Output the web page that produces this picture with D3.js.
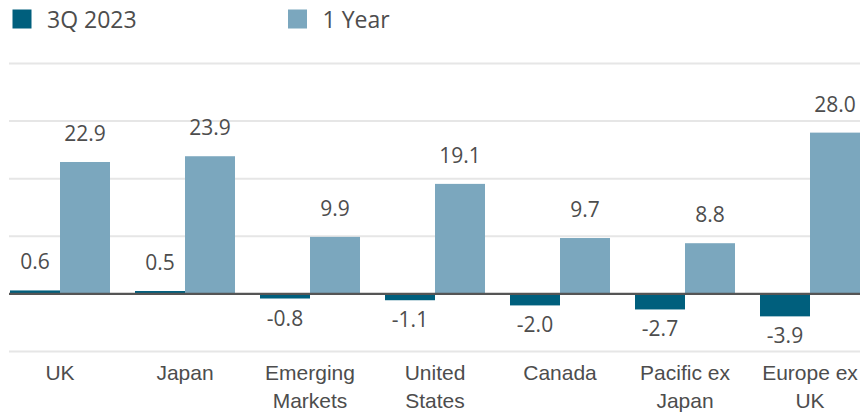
<!DOCTYPE html>
<html>
<head>
<meta charset="utf-8">
<script src="https://cdn.jsdelivr.net/npm/d3@7/dist/d3.min.js"></script>
<style>
  html, body { margin: 0; padding: 0; background: #fff; }
  svg { display: block; font-family: "Open Sans", sans-serif; }
</style>
</head>
<body>
<svg id="chart" width="860" height="413"></svg>
<script>
// Regional equity returns (%)
const categories = ["UK", "Japan", "Emerging Markets", "United States", "Canada", "Pacific ex Japan", "Europe ex UK"];
const categoryLines = [["UK"], ["Japan"], ["Emerging", "Markets"], ["United", "States"], ["Canada"], ["Pacific ex", "Japan"], ["Europe ex", "UK"]];
const seriesNames = ["3Q 2023", "1 Year"];
const quarterValues = [0.6, 0.5, -0.8, -1.1, -2.0, -2.7, -3.9];
const yearValues = [22.9, 23.9, 9.9, 19.1, 9.7, 8.8, 28.0];
const gridTicks = [-10, 10, 20, 30, 40];
const colors = ["#005f7d", "#7ba7be"];

const svg = d3.select("#chart");
const plot = { left: 9, right: 860, top: 63.5, bottom: 351.5 };

const x = d3.scaleBand().domain(categories).range([10, plot.right]).paddingInner(0.2).paddingOuter(0);
const xSub = d3.scaleBand().domain(seriesNames).range([0, x.bandwidth()]).padding(0);
const y = d3.scaleLinear().domain([-10, 40]).range([plot.bottom, plot.top]);

// gridlines
svg.append("g").selectAll("line").data(gridTicks).join("line")
  .attr("x1", plot.left).attr("x2", plot.right)
  .attr("y1", d => y(d)).attr("y2", d => y(d))
  .attr("stroke", "#e6e6e6").attr("stroke-width", 2);

const rows = categories.map((c, i) => ({
  cat: c,
  values: [
    { key: seriesNames[0], v: quarterValues[i], color: colors[0] },
    { key: seriesNames[1], v: yearValues[i], color: colors[1] }
  ]
}));

const groups = svg.append("g").selectAll("g").data(rows).join("g")
  .attr("transform", d => `translate(${x(d.cat)},0)`);

groups.selectAll("rect").data(d => d.values).join("rect")
  .attr("x", d => xSub(d.key))
  .attr("width", xSub.bandwidth())
  .attr("y", d => y(Math.max(0, d.v)))
  .attr("height", d => Math.abs(y(d.v) - y(0)))
  .attr("fill", d => d.color);

// value labels, plain hyphen for negatives
groups.selectAll("text").data(d => d.values).join("text")
  .attr("x", d => xSub(d.key) + xSub.bandwidth() / 2)
  .attr("y", d => d.v >= 0 ? y(d.v) - 21 : y(d.v) + 27)
  .attr("text-anchor", "middle")
  .attr("font-size", 21)
  .attr("fill", "#4d4d4d")
  .text(d => d.v.toFixed(1));

// zero line
svg.append("line")
  .attr("x1", plot.left).attr("x2", plot.right)
  .attr("y1", y(0)).attr("y2", y(0))
  .attr("stroke", "#555").attr("stroke-width", 2.2);

// category axis
const xAxis = svg.append("g")
  .attr("transform", `translate(0,${plot.bottom})`)
  .call(d3.axisBottom(x).tickSize(0).tickFormat(""));
xAxis.select(".domain").remove();
xAxis.selectAll(".tick").each(function(d, i) {
  const t = d3.select(this).append("text")
    .attr("text-anchor", "middle")
    .attr("font-size", 21)
    .attr("fill", "#4d4d4d");
  categoryLines[i].forEach((line, j) => {
    t.append("tspan").attr("x", 0).attr("y", 28.5 + j * 27.5).text(line);
  });
});

// legend
const legend = svg.append("g").selectAll("g").data(seriesNames).join("g")
  .attr("transform", (d, i) => `translate(${[12.5, 288][i]},0)`);
legend.append("rect").attr("x", 0).attr("y", 9.5).attr("width", 19).attr("height", 19)
  .attr("fill", (d, i) => colors[i]);
legend.append("text").attr("x", 34.5).attr("y", 28.3)
  .attr("font-size", 23).attr("fill", "#4d4d4d").text(d => d);
</script>
</body>
</html>
